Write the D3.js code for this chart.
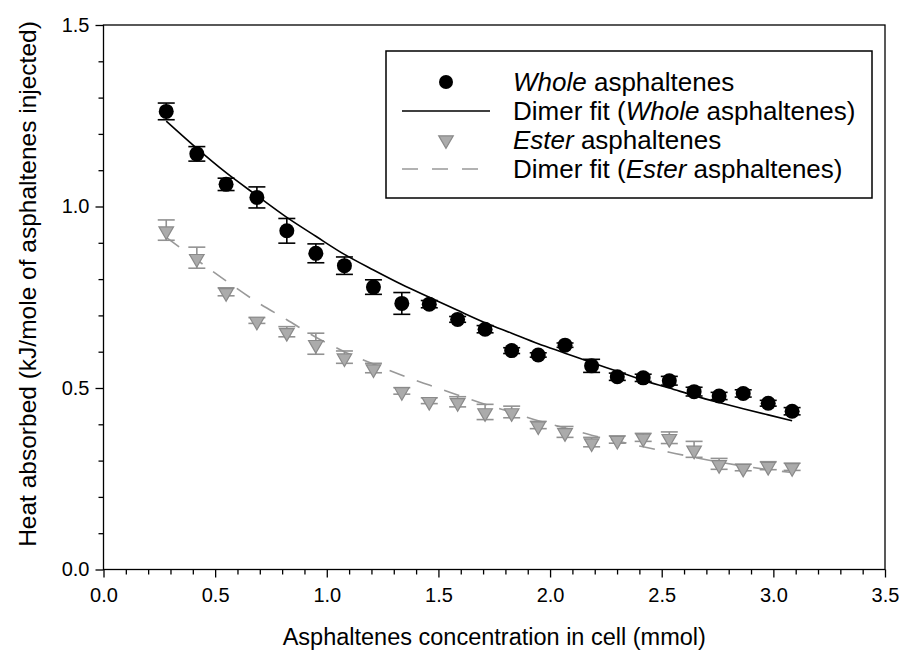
<!DOCTYPE html>
<html>
<head>
<meta charset="utf-8">
<script src="https://cdn.jsdelivr.net/npm/d3@7"></script>
<style>
  html, body { margin: 0; padding: 0; background: #fff; }
  svg { display: block; }
  text { font-family: "Liberation Sans", Arial, sans-serif; fill: #000; }
</style>
</head>
<body>
<svg id="chart" width="900" height="658"></svg>
<script>
// ---- data ----
const concentration = [0.281, 0.418, 0.549, 0.687, 0.821, 0.951, 1.079, 1.209, 1.336, 1.459, 1.586, 1.709,
                       1.828, 1.947, 2.067, 2.186, 2.301, 2.417, 2.534, 2.645, 2.757, 2.865, 2.977, 3.084];
const wholeHeat = [1.262, 1.145, 1.061, 1.025, 0.933, 0.871, 0.837, 0.778, 0.733, 0.731, 0.689, 0.662,
                   0.603, 0.591, 0.618, 0.561, 0.531, 0.528, 0.520, 0.490, 0.478, 0.485, 0.458, 0.436];
const wholeErr  = [0.023, 0.020, 0.017, 0.029, 0.034, 0.026, 0.024, 0.020, 0.030, 0.010, 0.008, 0.010,
                   0.008, 0.006, 0.006, 0.018, 0.010, 0.010, 0.012, 0.012, 0.010, 0.010, 0.008, 0.010];
const esterHeat = [0.935, 0.859, 0.765, 0.686, 0.655, 0.622, 0.585, 0.555, 0.492, 0.465, 0.462, 0.434,
                   0.434, 0.398, 0.379, 0.351, 0.358, 0.364, 0.363, 0.331, 0.291, 0.281, 0.286, 0.283];
const esterErr  = [0.028, 0.029, 0.011, 0.008, 0.014, 0.029, 0.017, 0.013, 0.009, 0.008, 0.014, 0.021,
                   0.016, 0.010, 0.015, 0.013, 0.010, 0.011, 0.016, 0.022, 0.015, 0.009, 0.011, 0.010];
const wholeFit  = [1.235, 1.160, 1.093, 1.030, 0.970, 0.918, 0.868, 0.825, 0.785, 0.750, 0.714, 0.680,
                   0.651, 0.622, 0.596, 0.570, 0.546, 0.521, 0.500, 0.479, 0.460, 0.443, 0.426, 0.410];
const esterFit  = [0.915, 0.853, 0.795, 0.737, 0.688, 0.640, 0.600, 0.566, 0.535, 0.508, 0.481, 0.455,
                   0.433, 0.410, 0.390, 0.370, 0.354, 0.338, 0.323, 0.309, 0.296, 0.285, 0.275, 0.267];
const xTicks = [0, 0.5, 1.0, 1.5, 2.0, 2.5, 3.0, 3.5];
const yTicks = [0, 0.5, 1.0, 1.5];
const xTitle = "Asphaltenes concentration in cell (mmol)";
const yTitle = "Heat absorbed (kJ/mole of asphaltenes injected)";

// ---- layout ----
const svg = d3.select("#chart");
const L = 103.5, R = 885, T = 25, B = 569.5;
const x = d3.scaleLinear().domain([0, 3.5]).range([L, R]);
const y = d3.scaleLinear().domain([0, 1.5]).range([B, T]);

// axes with minor ticks
const xMinor = d3.range(0, 3.5001, 0.1).filter(v => Math.abs(v * 2 - Math.round(v * 2)) > 1e-6);
const yMinor = d3.range(0, 1.5001, 0.1).filter(v => Math.abs(v * 2 - Math.round(v * 2)) > 1e-6);

const gx = svg.append("g").attr("transform", `translate(0,${B})`);
gx.call(d3.axisBottom(x).tickValues(xMinor).tickSize(5).tickFormat(""));
gx.append("g").call(d3.axisBottom(x).tickValues(xTicks).tickSize(8).tickPadding(10).tickFormat(d3.format(".1f")));
const gy = svg.append("g").attr("transform", `translate(${L},0)`);
gy.call(d3.axisLeft(y).tickValues(yMinor).tickSize(5).tickFormat(""));
gy.append("g").call(d3.axisLeft(y).tickValues(yTicks).tickSize(8).tickPadding(6).tickFormat(d3.format(".1f")));
svg.selectAll(".domain").remove();
svg.selectAll(".tick line").attr("stroke", "#000").attr("stroke-width", 1.3);
svg.selectAll(".tick text").style("font-size", "20px").attr("fill", "#000")
   .style("font-family", '"Liberation Sans", Arial, sans-serif');

// frame
svg.append("rect").attr("x", L).attr("y", T).attr("width", R - L).attr("height", B - T)
   .attr("fill", "none").attr("stroke", "#000").attr("stroke-width", 1.3);

// titles
svg.append("text").attr("x", (L + R) / 2).attr("y", 645).attr("text-anchor", "middle")
   .style("font-size", "23.5px").text(xTitle);
svg.append("text").attr("transform", `translate(36,284) rotate(-90)`)
   .attr("text-anchor", "middle").style("font-size", "24.5px").text(yTitle);

// fit lines
const line = (vals) => d3.line().x((d, i) => x(concentration[i])).y(d => y(d)).curve(d3.curveMonotoneX)(vals);
svg.append("path").attr("d", line(esterFit)).attr("fill", "none")
   .attr("stroke", "#999").attr("stroke-width", 1.6).attr("stroke-dasharray", "16,13");
svg.append("path").attr("d", line(wholeFit)).attr("fill", "none")
   .attr("stroke", "#000").attr("stroke-width", 1.6);

// error bars
function errorBars(vals, errs, color) {
  const g = svg.append("g").attr("stroke", color).attr("stroke-width", 1.6);
  vals.forEach((v, i) => {
    const cx = x(concentration[i]);
    const y1 = y(v + errs[i]), y2 = y(v - errs[i]);
    g.append("line").attr("x1", cx).attr("x2", cx).attr("y1", y1).attr("y2", y2);
    g.append("line").attr("x1", cx - 8.5).attr("x2", cx + 8.5).attr("y1", y1).attr("y2", y1);
    g.append("line").attr("x1", cx - 8.5).attr("x2", cx + 8.5).attr("y1", y2).attr("y2", y2);
  });
}
errorBars(esterHeat, esterErr, "#929292");
errorBars(wholeHeat, wholeErr, "#000");

// markers
const tri = d3.symbol().type(d3.symbolTriangle).size(92);
svg.append("g").selectAll("path").data(esterHeat).join("path")
   .attr("d", tri)
   .attr("transform", (d, i) => `translate(${x(concentration[i])},${y(d) + 1}) rotate(180)`)
   .attr("fill", "#ababab").attr("stroke", "#8a8a8a").attr("stroke-width", 1.2);
svg.append("g").selectAll("circle").data(wholeHeat).join("circle")
   .attr("cx", (d, i) => x(concentration[i])).attr("cy", d => y(d)).attr("r", 7.5).attr("fill", "#000");

// legend
const lg = svg.append("g");
lg.append("rect").attr("x", 386).attr("y", 51).attr("width", 486).attr("height", 147)
  .attr("fill", "#fff").attr("stroke", "#000").attr("stroke-width", 1.5);
const rows = [82, 111, 140, 169];
lg.append("circle").attr("cx", 446).attr("cy", rows[0]).attr("r", 7).attr("fill", "#000");
lg.append("line").attr("x1", 402).attr("x2", 490).attr("y1", rows[1]).attr("y2", rows[1])
  .attr("stroke", "#000").attr("stroke-width", 1.6);
lg.append("path").attr("d", tri).attr("transform", `translate(446,${rows[2]}) rotate(180)`)
  .attr("fill", "#ababab").attr("stroke", "#8a8a8a").attr("stroke-width", 1.2);
lg.append("line").attr("x1", 402).attr("x2", 480).attr("y1", rows[3]).attr("y2", rows[3])
  .attr("stroke", "#999").attr("stroke-width", 1.6).attr("stroke-dasharray", "16,14");

const legendText = [
  [["Whole", true], [" asphaltenes", false]],
  [["Dimer fit (", false], ["Whole", true], [" asphaltenes)", false]],
  [["Ester", true], [" asphaltenes", false]],
  [["Dimer fit (", false], ["Ester", true], [" asphaltenes)", false]]
];
legendText.forEach((parts, i) => {
  const t = lg.append("text").attr("x", 513).attr("y", rows[i] + 9).style("font-size", "26px");
  parts.forEach(([s, it]) => t.append("tspan").style("font-style", it ? "italic" : "normal").text(s));
});
</script>
</body>
</html>
